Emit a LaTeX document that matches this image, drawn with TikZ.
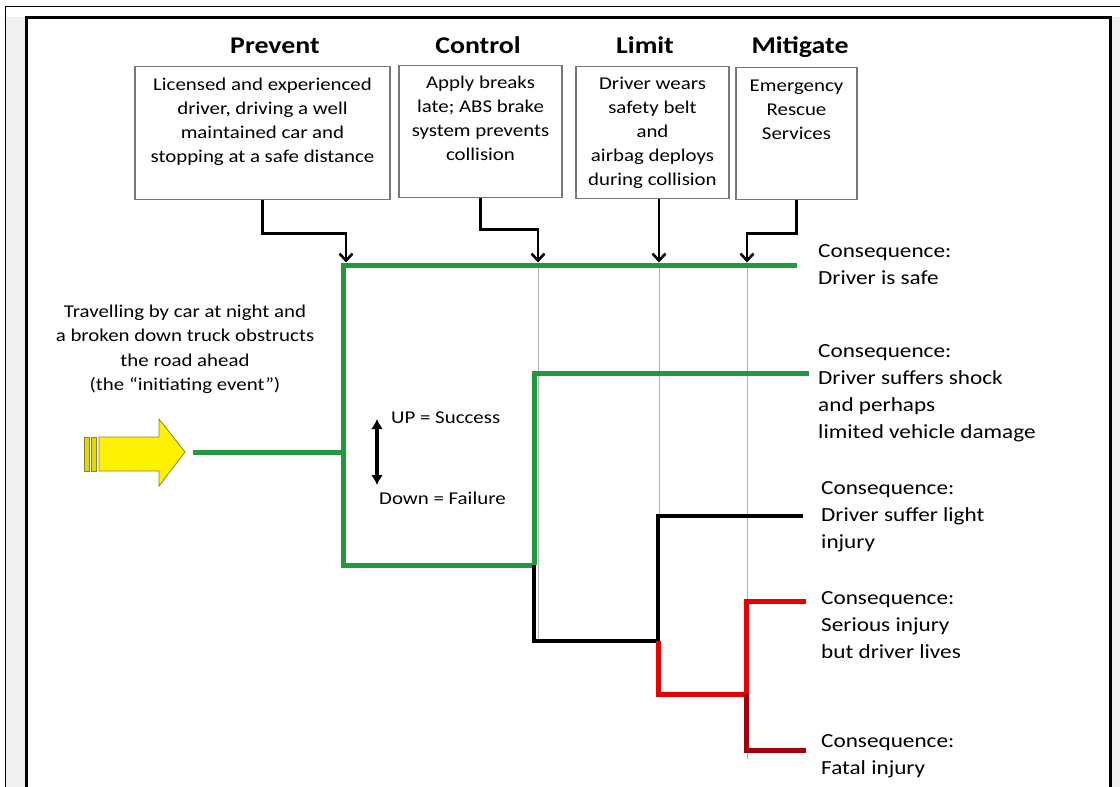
\documentclass[tikz,border=0pt]{standalone}
\usepackage{fontspec}
\setmainfont{Carlito}[FakeStretch=1.16]
\usetikzlibrary{positioning,arrows.meta}

\definecolor{treegreen}{RGB}{36,152,62}
\definecolor{failred}{RGB}{232,0,0}
\definecolor{fatalred}{RGB}{165,0,10}
\definecolor{eventedge}{RGB}{140,130,40}
\definecolor{boxgray}{RGB}{120,120,120}

\tikzset{
  heading/.style={font=\fontsize{24}{28}\selectfont\bfseries, anchor=base},
  barrier/.style={draw=boxgray, line width=1.3pt, anchor=north},
  boxtext/.style={align=center, anchor=base, inner sep=0pt,
    font=\fontsize{18}{24}\selectfont},
  outcome/.style={align=left, anchor=base west, inner sep=0pt,
    font=\fontsize{20}{27}\selectfont},
  legend/.style={anchor=base west, inner sep=0pt, font=\fontsize{18}{22}\selectfont},
  feed/.style={line width=2.6pt, -{Straight Barb[length=7pt,width=13pt]}},
  guide/.style={draw=gray!60, line width=0.7pt},
  okpath/.style={draw=treegreen, line width=5pt},
  midpath/.style={draw=black, line width=3.5pt},
  badpath/.style={draw=failred, line width=5pt},
  fatalpath/.style={draw=fatalred, line width=5pt},
}

\begin{document}
\begin{tikzpicture}[x=1pt,y=-1pt]
    \useasboundingbox (0,0) rectangle (1120,787);
    % slide frame
    \fill[gray!12] (6,17) rectangle (25,787);
    \fill[gray!12] (1112,17) rectangle (1120,787);
    \draw[line width=0.8pt] (5,787) -- (5,6) -- (1120,6);
    \draw[line width=3pt] (26,787) -- (26,17) -- (1110,17) -- (1110,787);

    % barrier headings and boxes
    \node[heading] (hprev) at (275,53) {Prevent};
    \node[heading] (hctrl) at (478,53) {Control};
    \node[heading] (hlim) at (645,53) {Limit};
    \node[heading] (hmit) at (800,53) {Mitigate};

    \node[barrier, minimum width=255pt, minimum height=133pt] (pbox) at (262.5,66) {};
    \node[barrier, minimum width=163pt, minimum height=132pt] (cbox) at (480.5,65) {};
    \node[barrier, minimum width=153pt, minimum height=132pt] (lbox) at (652.5,66) {};
    \node[barrier, minimum width=121pt, minimum height=132pt] (mbox) at (796.5,67) {};

    % (base of a multi-line node = its last line)
    \node[boxtext] (ptext) at ([yshift=-96pt]pbox.north) {Licensed and experienced\\driver, driving a well\\maintained car  and\\stopping at a safe distance};
    \node[boxtext] (ctext) at ([yshift=-95pt]cbox.north) {Apply breaks\\late; ABS  brake\\system prevents\\collision};
    \node[boxtext] (ltext) at ([yshift=-119pt]lbox.north) {Driver wears\\safety belt\\and\\airbag  deploys\\during collision};
    \node[boxtext] (mtext) at ([yshift=-72pt]mbox.north) {Emergency\\Rescue\\Services};

    % branch points of the tree
    \coordinate (evline) at (193,452);
    \coordinate (p1) at (343,452);
    \coordinate (p1up) at (343,265);
    \coordinate (p1dn) at (343,565);
    \coordinate (c1) at (534,565);
    \coordinate (c1up) at (534,373);
    \coordinate (c1dn) at (534,641);
    \coordinate (l1) at (658,641);
    \coordinate (l1up) at (658,516);
    \coordinate (l1dn) at (658,694);
    \coordinate (m1) at (746,694);
    \coordinate (m1up) at (746,601);
    \coordinate (m1dn) at (746,750);
    \coordinate (ctop) at (538,265);
    \coordinate (ltop) at (659,265);
    \coordinate (mtop) at (747,265);
    \coordinate (e1) at (797,265);
    \coordinate (e2) at (809,373);
    \coordinate (e3) at (803,516);
    \coordinate (e4) at (806,601);
    \coordinate (e5) at (806,750);

    % thin guide lines under each barrier
    \draw[guide] (ctop) -- (ctop |- c1dn);
    \draw[guide] (ltop) -- (ltop |- l1dn);
    \draw[guide] (mtop) -- ++(0,494);

    % barrier arrows onto the success line
    \draw[feed] (pbox.south) -- ++(0,33) -| ([xshift=3pt,yshift=2.5pt]p1up);
    \draw[feed] (cbox.south) -- ++(0,31) -| ([yshift=2.5pt]ctop);
    \draw[feed] (lbox.south -| ltop) -- ([yshift=2.5pt]ltop);
    \draw[feed] (mbox.south) -- ++(0,33) -| ([yshift=2.5pt]mtop);

    % initiating event arrow
    \draw[fill=yellow, draw=eventedge, line width=0.8pt] (99,437) -- (159,437) -- (159,419) -- (185,452) -- (159,486) -- (159,471) -- (99,471) -- cycle;
    \draw[fill=yellow!75!olive, draw=eventedge, line width=0.8pt] (84,437) rectangle (89,471);
    \draw[fill=yellow!75!olive, draw=eventedge, line width=0.8pt] (91,437) rectangle (96,471);

    \node[boxtext, font=\fontsize{18}{24.5}\selectfont] (init) at (185,390.5) {Travelling by car at night and\\a broken down truck  obstructs\\the road ahead\\(the ``initiating  event'')};

    % event tree
    \draw[okpath] (evline) -- (p1);
    \draw[okpath] (e1) -- (p1up) -- (p1dn) -- (c1);
    \draw[okpath] (c1) -- (c1up) -- (e2);
    \draw[midpath] (c1) -- (c1dn) -- (l1) -- (l1up) -- (e3);
    \draw[badpath] (l1) -- (l1dn) -- (m1) -- (m1up) -- (e4);
    \draw[fatalpath] (m1) -- (m1dn) -- (e5);

    % legend
    \coordinate (upend) at (377,419);
    \coordinate (dnend) at (377,485);
    \draw[line width=3.2pt, {Latex[length=10pt,width=12pt]}-{Latex[length=10pt,width=12pt]}] (upend) -- (dnend);
    \node[legend] (uplbl) at (391,423) {UP = Success};
    \node[legend] (dnlbl) at (379,504) {Down = Failure};

    % consequences
    \node[outcome] (safe) at (818,284) {Consequence:\\Driver  is safe};
    \node[outcome] (shock) at (818,438) {Consequence:\\Driver  suffers  shock\\and perhaps\\limited vehicle  damage};
    \node[outcome] (light) at (821,548) {Consequence:\\Driver  suffer  light\\injury};
    \node[outcome] (serious) at (821,658) {Consequence:\\Serious injury\\but  driver  lives};
    \node[outcome] (fatal) at (821,774) {Consequence:\\Fatal injury};
\end{tikzpicture}
\end{document}
